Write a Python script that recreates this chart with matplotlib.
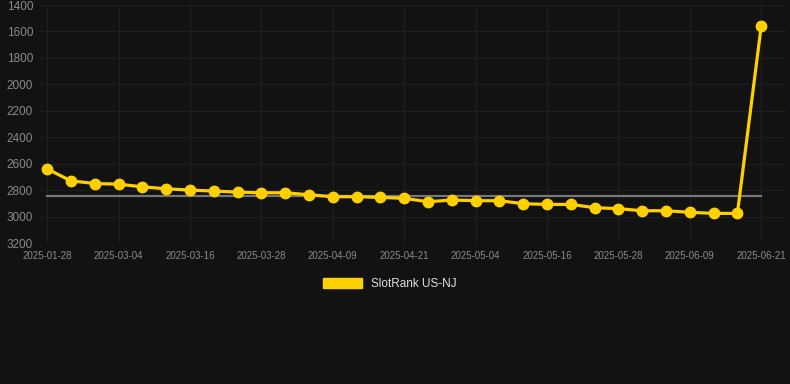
import matplotlib
matplotlib.use("Agg")
import matplotlib.pyplot as plt
from matplotlib.patches import Patch

dates = ["2025-01-28", "2025-02-22", "2025-02-28", "2025-03-04", "2025-03-08", "2025-03-12",
         "2025-03-16", "2025-03-20", "2025-03-24", "2025-03-28", "2025-04-01", "2025-04-05",
         "2025-04-09", "2025-04-13", "2025-04-17", "2025-04-21", "2025-04-25", "2025-04-29",
         "2025-05-04", "2025-05-08", "2025-05-12", "2025-05-16", "2025-05-20", "2025-05-24",
         "2025-05-28", "2025-06-01", "2025-06-05", "2025-06-09", "2025-06-13", "2025-06-17",
         "2025-06-21"]
ranks = [2640, 2730, 2750, 2755, 2775, 2790, 2800, 2807, 2815, 2820, 2820, 2835,
         2850, 2850, 2855, 2862, 2888, 2875, 2880, 2880, 2903, 2908, 2908, 2933,
         2940, 2956, 2956, 2968, 2976, 2976, 1560]
ref_level = 2845
yticks = [1400, 1600, 1800, 2000, 2200, 2400, 2600, 2800, 3000, 3200]
series_name = "SlotRank US-NJ"

bg = "#121212"
gold = "#FFD000"
plt.rcParams['font.family'] = ['Liberation Sans', 'DejaVu Sans']

fig = plt.figure(figsize=(7.9, 3.84), dpi=100, facecolor=bg)
ax = fig.add_axes([40/790, 1-243/384, 745/790, 238/384], facecolor=bg)

x = list(range(len(dates)))
ax.plot([x[0], x[-1]], [ref_level, ref_level], color="#777777", lw=1.6, zorder=2)
ax.plot(x, ranks, color=gold, lw=2.3, marker="o", ms=7.5, mec=gold, mfc=gold, zorder=3)

ax.set_ylim(3200, 1400)
ax.set_yticks(yticks)
ax.set_xlim(-0.3, 31.0)
tick_idx = list(range(0, len(dates), 3))
ax.set_xticks(tick_idx)
ax.set_xticklabels([dates[i] for i in tick_idx])

ax.grid(True, color="#1f1f1f", lw=0.8)
ax.set_axisbelow(True)
for s in ax.spines.values():
    s.set_visible(False)
ax.tick_params(axis='y', length=0, labelsize=8.5, labelcolor="#8a8a8a", pad=5)
ax.tick_params(axis='x', length=0, labelsize=7, labelcolor="#8a8a8a", pad=6)

leg = fig.legend(handles=[Patch(facecolor=gold, edgecolor=gold)], labels=[series_name],
                 loc="center", bbox_to_anchor=(390/790, 1-284/384), frameon=False,
                 handlelength=3.3, handleheight=1.0, fontsize=8.5, labelcolor="#e0e0e0")

fig.savefig("out.png", dpi=100, facecolor=bg)
